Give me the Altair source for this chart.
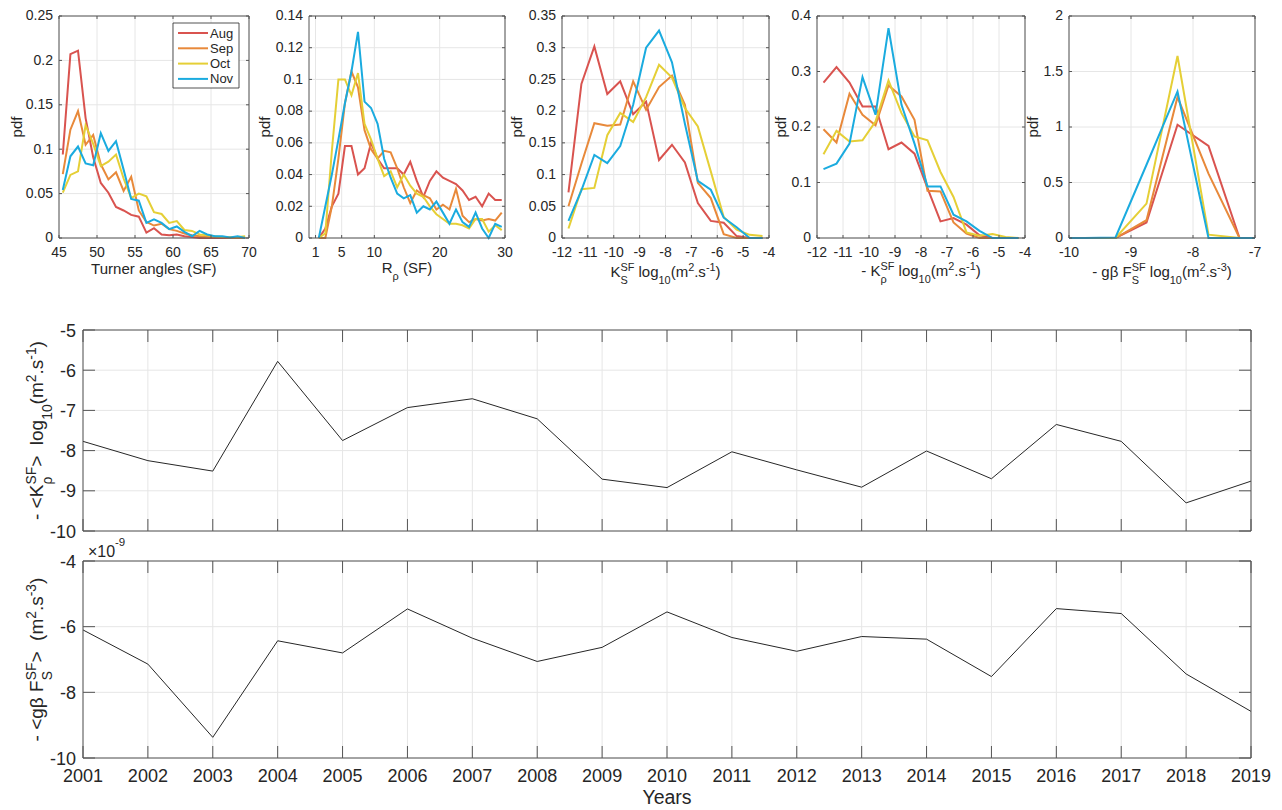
import altair as alt
import pandas as pd

FONT = "Liberation Sans, Arial, Helvetica, sans-serif"
TXT = "#262626"
BOX = "#555555"
GRID = "#e6e6e6"

months = ["Aug", "Sep", "Oct", "Nov"]
month_colors = ["#d9534f", "#e8893a", "#e5cf36", "#1aabdf"]

# ---- Turner angles ----
turner_x = [45.5, 46.5, 47.5, 48.5, 49.5, 50.5, 51.5, 52.5, 53.5, 54.5, 55.5, 56.5, 57.5,
            58.5, 59.5, 60.5, 61.5, 62.5, 63.5, 64.5, 65.5, 66.5, 67.5, 68.5, 69.5]
turner_aug = [0.094, 0.207, 0.211, 0.135, 0.091, 0.062, 0.051, 0.035, 0.031, 0.026, 0.024, 0.006, 0.011,
              0.004, 0.003, 0.004, 0.002, 0.001, 0, 0, 0, 0, 0, 0, 0]
turner_sep = [0.072, 0.122, 0.143, 0.105, 0.116, 0.083, 0.066, 0.074, 0.053, 0.069, 0.031, 0.018, 0.014,
              0.016, 0.010, 0.008, 0.005, 0.003, 0.002, 0.001, 0.001, 0.001, 0, 0, 0]
turner_oct = [0.051, 0.071, 0.075, 0.127, 0.106, 0.081, 0.086, 0.094, 0.067, 0.045, 0.050, 0.047, 0.029,
              0.027, 0.017, 0.019, 0.009, 0.008, 0.004, 0.003, 0.002, 0.001, 0.001, 0.001, 0.002]
turner_nov = [0.054, 0.092, 0.103, 0.084, 0.082, 0.118, 0.098, 0.109, 0.077, 0.044, 0.042, 0.017, 0.021,
              0.017, 0.010, 0.013, 0.007, 0.002, 0.008, 0.004, 0.002, 0.002, 0.0005, 0.002, 0.0]

# ---- R_rho ----
rrho_x = [1.5, 2.5, 3.5, 4.5, 5.5, 6.5, 7.5, 8.5, 9.5, 10.5, 11.5, 12.5, 13.5, 14.5, 15.5,
          16.5, 17.5, 18.5, 19.5, 20.5, 21.5, 22.5, 23.5, 24.5, 25.5, 26.5, 27.5, 28.5, 29.5]
rrho_aug = [0, 0.006, 0.02, 0.028, 0.058, 0.058, 0.04, 0.044, 0.06, 0.05, 0.044, 0.044, 0.044, 0.04, 0.048,
            0.036, 0.026, 0.036, 0.042, 0.038, 0.036, 0.034, 0.03, 0.024, 0.026, 0.02, 0.028, 0.024, 0.024]
rrho_sep = [0, 0, 0.02, 0.05, 0.085, 0.105, 0.095, 0.068, 0.056, 0.05, 0.055, 0.054, 0.044, 0.032, 0.022,
            0.03, 0.027, 0.025, 0.018, 0.021, 0.018, 0.031, 0.014, 0.01, 0.012, 0.011, 0.012, 0.011, 0.016]
rrho_oct = [0, 0.003, 0.055, 0.1, 0.1, 0.09, 0.104, 0.072, 0.062, 0.05, 0.039, 0.042, 0.032, 0.04, 0.033,
            0.028, 0.026, 0.02, 0.015, 0.012, 0.009, 0.009, 0.008, 0.006, 0.012, 0.012, 0.004, 0.008, 0.005]
rrho_nov = [0, 0.02, 0.04, 0.062, 0.085, 0.105, 0.13, 0.086, 0.082, 0.072, 0.05, 0.038, 0.028, 0.025, 0.027,
            0.016, 0.02, 0.018, 0.023, 0.016, 0.009, 0.018, 0.01, 0.007, 0.016, 0.006, 0.0, 0.009, 0.007]

# ---- K_S and K_rho ----
k_x = [-11.75, -11.25, -10.75, -10.25, -9.75, -9.25, -8.75, -8.25,
       -7.75, -7.25, -6.75, -6.25, -5.75, -5.25, -4.75, -4.25]
ks_aug = [0.072, 0.243, 0.302, 0.227, 0.247, 0.195, 0.215, 0.123, 0.147, 0.119, 0.055, 0.027, 0.024, 0.003, 0, 0]
ks_sep = [0.05, 0.117, 0.181, 0.177, 0.179, 0.247, 0.202, 0.238, 0.256, 0.21, 0.087, 0.063, 0.006, 0, 0, 0]
ks_oct = [0.015, 0.077, 0.079, 0.162, 0.197, 0.183, 0.222, 0.273, 0.253, 0.205, 0.176, 0.105, 0.033, 0.013, 0.005, 0.003]
ks_nov = [0.027, 0.075, 0.131, 0.118, 0.145, 0.21, 0.30, 0.327, 0.277, 0.18, 0.09, 0.076, 0.032, 0.017, 0, 0]

kr_aug = [0.28, 0.308, 0.28, 0.237, 0.237, 0.16, 0.172, 0.152, 0.09, 0.03, 0.036, 0.024, 0.005, 0, 0, 0]
kr_sep = [0.196, 0.172, 0.26, 0.222, 0.203, 0.275, 0.255, 0.213, 0.085, 0.084, 0.028, 0.008, 0, 0, 0, 0]
kr_oct = [0.151, 0.193, 0.174, 0.176, 0.21, 0.284, 0.225, 0.183, 0.176, 0.119, 0.074, 0.01, 0.004, 0.007, 0.002, 0]
kr_nov = [0.124, 0.134, 0.17, 0.29, 0.222, 0.378, 0.24, 0.17, 0.093, 0.093, 0.042, 0.03, 0.013, 0, 0, 0]

# ---- g beta F_S ----
gbf_x = [-10, -9.75, -9.25, -8.75, -8.25, -7.75, -7.25, -7]
gbf_aug = [0, 0, 0, 0.14, 1.02, 0.83, 0, 0]
gbf_sep = [0, 0, 0, 0.16, 1.27, 0.58, 0, 0]
gbf_oct = [0, 0, 0, 0.31, 1.64, 0.03, 0, 0]
gbf_nov = [0, 0, 0.005, 0.66, 1.32, 0, 0, 0]

# ---- yearly series ----
years = [2001, 2002, 2003, 2004, 2005, 2006, 2007, 2008, 2009, 2010,
         2011, 2012, 2013, 2014, 2015, 2016, 2017, 2018, 2019]
krho_year = [-7.77, -8.25, -8.51, -5.78, -7.75, -6.93, -6.71, -7.21, -8.71, -8.92,
             -8.03, -8.48, -8.91, -8.01, -8.70, -7.35, -7.77, -9.30, -8.76]
gbf_year = [-6.10, -7.14, -9.37, -6.43, -6.80, -5.46, -6.35, -7.06, -6.63, -5.55,
            -6.33, -6.75, -6.30, -6.38, -7.52, -5.45, -5.60, -7.44, -8.58]   # x 1e-9

# tick values
turner_ticks = [45, 50, 55, 60, 65, 70]
rrho_ticks = [1, 5, 10, 20, 30]
k_ticks = [-12, -11, -10, -9, -8, -7, -6, -5, -4]
gbf_ticks = [-10, -9, -8, -7]
pdf1_ticks = [0, 0.05, 0.1, 0.15, 0.2, 0.25]
pdf2_ticks = [0, 0.02, 0.04, 0.06, 0.08, 0.1, 0.12, 0.14]
pdf3_ticks = [0, 0.05, 0.1, 0.15, 0.2, 0.25, 0.3, 0.35]
pdf4_ticks = [0, 0.1, 0.2, 0.3, 0.4]
pdf5_ticks = [0, 0.5, 1, 1.5, 2]
krho_ticks = [-10, -9, -8, -7, -6, -5]
gbfy_ticks = [-10, -8, -6, -4]

# ---------------------------------------------------------------- helpers
CW = {" ": 278, "(": 333, ")": 333, ".": 278, "-": 333, "<": 584, ">": 584, "\u00d7": 584,
      "\u03b2": 575, "\u03c1": 577, "K": 667, "S": 667, "F": 611, "R": 722, "T": 611, "Y": 667,
      "a": 556, "e": 556, "g": 556, "l": 222, "n": 556, "o": 556, "r": 333, "s": 500, "u": 556,
      "m": 833, "d": 556, "p": 556, "f": 278, "t": 278}


def tw(s, size):
    return sum(CW.get(c, 556) for c in s) * size / 1000.0


def fmt(v):
    if float(v).is_integer():
        return str(int(v))
    return f"{v:.2f}".rstrip("0").rstrip(".")


def X(f, xs):
    return alt.X(f, type="quantitative", scale=xs, axis=None)


def Y(f, ys):
    return alt.Y(f, type="quantitative", scale=ys, axis=None)


ONE = pd.DataFrame({"k": [0]})


def frame_layers(xs, ys, xdom, ydom, xticks, yticks, L, lab, xlab_dy, ylab_dx, ylab_dy, xlabels=True):
    x0, x1 = xdom
    y0, y1 = ydom
    xt = pd.DataFrame({"t": xticks, "lab": [fmt(v) for v in xticks]})
    yt = pd.DataFrame({"t": yticks, "lab": [fmt(v) for v in yticks]})
    calc = dict(xa=f"{x0}", xb=f"{x1}", ya=f"{y0}", yb=f"{y1}")
    grid = [
        alt.Chart(xt).transform_calculate(**calc).mark_rule(color=GRID, strokeWidth=1).encode(
            x=X("t", xs), y=Y("ya", ys), y2="yb"),
        alt.Chart(yt).transform_calculate(**calc).mark_rule(color=GRID, strokeWidth=1).encode(
            y=Y("t", ys), x=X("xa", xs), x2="xb"),
    ]
    r = dict(color=BOX, strokeWidth=1)
    deco = [
        alt.Chart(ONE).transform_calculate(**calc).mark_rect(
            fillOpacity=0, stroke=BOX, strokeWidth=1).encode(
            x=X("xa", xs), x2="xb", y=Y("ya", ys), y2="yb"),
        alt.Chart(xt).transform_calculate(**calc).mark_rule(y2Offset=-L, **r).encode(
            x=X("t", xs), y=Y("ya", ys), y2="ya"),
        alt.Chart(xt).transform_calculate(**calc).mark_rule(y2Offset=L, **r).encode(
            x=X("t", xs), y=Y("yb", ys), y2="yb"),
        alt.Chart(yt).transform_calculate(**calc).mark_rule(x2Offset=L, **r).encode(
            y=Y("t", ys), x=X("xa", xs), x2="xa"),
        alt.Chart(yt).transform_calculate(**calc).mark_rule(x2Offset=-L, **r).encode(
            y=Y("t", ys), x=X("xb", xs), x2="xb"),
        alt.Chart(yt).transform_calculate(**calc).mark_text(
            align="right", baseline="alphabetic", fontSize=lab, font=FONT, color=TXT,
            xOffset=ylab_dx, yOffset=ylab_dy).encode(
            x=X("xa", xs), y=Y("t", ys), text="lab:N"),
    ]
    if xlabels:
        deco.append(
            alt.Chart(xt).transform_calculate(**calc).mark_text(
                align="center", baseline="alphabetic", fontSize=lab, font=FONT, color=TXT,
                yOffset=xlab_dy).encode(
                x=X("t", xs), y=Y("ya", ys), text="lab:N"))
    return grid, deco


def rich_layers(groups, size, xs, ys, ax, ay, base_dx, base_dy, rotated=False):
    """Text with sub/superscripts built from several text marks."""
    small = round(size * 0.73, 1)
    spec = {"n": (size, 0.0), "sub": (small, round(size * 0.45, 1)), "sup": (small, -round(size * 0.38, 1))}
    adv = [max(tw(t, spec[k][0]) for t, k in g) for g in groups]
    pos = -sum(adv) / 2.0
    out = []
    for g, a in zip(groups, adv):
        for t, k in g:
            s, shift = spec[k]
            lead = len(t) - len(t.lstrip(" "))
            off = pos + tw(" " * lead, s)
            if rotated:
                xo, yo, ang = base_dx + shift, base_dy - off, 270
            else:
                xo, yo, ang = base_dx + off, base_dy + shift, 0
            out.append(
                alt.Chart(pd.DataFrame({"t": [t.strip()]})).transform_calculate(
                    ax=f"{ax}", ay=f"{ay}").mark_text(
                    align="left", baseline="alphabetic", fontSize=s, font=FONT, color=TXT,
                    angle=ang, xOffset=round(xo, 1), yOffset=round(yo, 1)).encode(
                    x=X("ax", xs), y=Y("ay", ys), text="t:N"))
        pos += a
    return out


def long_df(xs, series):
    rows = []
    for m, vals in zip(months, series):
        for x, v in zip(xs, vals):
            rows.append({"x": x, "pdf": v, "month": m})
    return pd.DataFrame(rows)


color_enc = alt.Color("month:N", scale=alt.Scale(domain=months, range=month_colors), legend=None)
TOP_YR = [230, 8]


def top_panel(df, xdom, xr, xticks, ydom, yticks, xtitle, title_dy, pdf_dx, legend=False):
    xs = alt.Scale(domain=xdom, range=xr, nice=False, zero=False)
    ys = alt.Scale(domain=ydom, range=TOP_YR, nice=False, zero=False)
    grid, deco = frame_layers(xs, ys, xdom, ydom, xticks, yticks, 3, 14, 19, -6, 4.3)
    line = alt.Chart(df).mark_line(strokeWidth=2).encode(
        x=X("x", xs), y=Y("pdf", ys), color=color_enc)
    layers = grid + [line] + deco
    xmid = (xdom[0] + xdom[1]) / 2.0
    ymid = (ydom[0] + ydom[1]) / 2.0
    layers += rich_layers(xtitle, 15, xs, ys, xmid, ydom[0], 0, title_dy)
    layers.append(alt.Chart(pd.DataFrame({"t": ["pdf"]})).transform_calculate(
        ax=f"{xdom[0]}", ay=f"{ymid}").mark_text(
        align="center", baseline="alphabetic", angle=270, fontSize=15, font=FONT, color=TXT,
        xOffset=pdf_dx).encode(x=X("ax", xs), y=Y("ay", ys), text="t:N"))
    if legend:
        calc = dict(ax=f"{xdom[1]}", ay=f"{ydom[1]}")
        layers.append(alt.Chart(ONE).transform_calculate(**calc).mark_rect(
            fill="white", stroke=TXT, strokeWidth=0.8,
            xOffset=-76, x2Offset=-10, yOffset=7, y2Offset=72).encode(
            x=X("ax", xs), x2="ax", y=Y("ay", ys), y2="ay"))
        for i, (m, c) in enumerate(zip(months, month_colors)):
            row = 17 + 15.3 * i
            ld = pd.DataFrame({"month": [m]})
            layers.append(alt.Chart(ld).transform_calculate(**calc).mark_rule(
                color=c, strokeWidth=2, xOffset=-71, x2Offset=-41, yOffset=row).encode(
                x=X("ax", xs), x2="ax", y=Y("ay", ys)))
            layers.append(alt.Chart(ld).transform_calculate(**calc).mark_text(
                align="left", baseline="alphabetic", fontSize=13, font=FONT, color=TXT,
                xOffset=-39, yOffset=row + 4.5).encode(
                x=X("ax", xs), y=Y("ay", ys), text="month:N"))
    return alt.layer(*layers)


def sub_sup(sub):
    return [(sub, "sub"), ("SF", "sup")]


def units(exp, lead=" log"):
    return [[(lead, "n")], [("10", "sub")], [("(m", "n")], [("2", "sup")], [(".s", "n")],
            [(exp, "sup")], [(")", "n")]]


p1 = top_panel(long_df(turner_x, [turner_aug, turner_sep, turner_oct, turner_nov]),
               [45, 70], [51, 241], turner_ticks, [0, 0.25], pdf1_ticks,
               [[("Turner angles (SF)", "n")]], 36, -37, legend=True)
p2 = top_panel(long_df(rrho_x, [rrho_aug, rrho_sep, rrho_oct, rrho_nov]),
               [0, 30], [301, 497], rrho_ticks, [0, 0.14], pdf2_ticks,
               [[("R", "n")], [("\u03c1", "sub")], [(" (SF)", "n")]], 35, -39)
p3 = top_panel(long_df(k_x, [ks_aug, ks_sep, ks_oct, ks_nov]),
               [-12, -4], [554, 761], k_ticks, [0, 0.35], pdf3_ticks,
               [[("K", "n")], sub_sup("S")] + units("-1"), 39, -40)
p4 = top_panel(long_df(k_x, [kr_aug, kr_sep, kr_oct, kr_nov]),
               [-12, -4], [809, 1017], k_ticks, [0, 0.4], pdf4_ticks,
               [[("- K", "n")], sub_sup("\u03c1")] + units("-1"), 38, -31)
p5 = top_panel(long_df(gbf_x, [gbf_aug, gbf_sep, gbf_oct, gbf_nov]),
               [-10, -7], [1061, 1247], gbf_ticks, [0, 2], pdf5_ticks,
               [[("- g\u03b2 F", "n")], sub_sup("S")] + units("-3"), 39, -31)

B_XR = [75, 1243]


def bottom_panel(vals, ydom, yr, yticks, ytitle, show_x, extra_fn=None):
    xdom = [2001, 2019]
    xs = alt.Scale(domain=xdom, range=B_XR, nice=False, zero=False)
    ys = alt.Scale(domain=ydom, range=yr, nice=False, zero=False)
    grid, deco = frame_layers(xs, ys, xdom, ydom, years, yticks, 12, 18, 24, -7, 6.5, xlabels=show_x)
    df = pd.DataFrame({"year": years, "v": vals})
    line = alt.Chart(df).mark_line(color="#262626", strokeWidth=1).encode(
        x=X("year", xs), y=Y("v", ys))
    layers = grid + [line] + deco
    ymid = (ydom[0] + ydom[1]) / 2.0
    layers += rich_layers(ytitle, 19, xs, ys, xdom[0], ymid, -40, 0, rotated=True)
    if extra_fn:
        layers += extra_fn(xs, ys)
    return alt.layer(*layers)


def b2_extra(xs, ys):
    out = []
    for t, s, xo, yo in [("\u00d710", 16, 5, -4), ("-9", 11.5, 32, -15)]:
        out.append(alt.Chart(pd.DataFrame({"t": [t]})).transform_calculate(
            ax="2001", ay="-4").mark_text(
            align="left", baseline="alphabetic", fontSize=s, font=FONT, color=TXT,
            xOffset=xo, yOffset=yo).encode(x=X("ax", xs), y=Y("ay", ys), text="t:N"))
    out.append(alt.Chart(pd.DataFrame({"t": ["Years"]})).transform_calculate(
        ax="2010", ay="-10").mark_text(
        align="center", baseline="alphabetic", fontSize=19.5, font=FONT, color=TXT,
        yOffset=46).encode(x=X("ax", xs), y=Y("ay", ys), text="t:N"))
    return out


b1 = bottom_panel(krho_year, [-10, -5], [523, 322], krho_ticks,
                  [[("- <K", "n")], sub_sup("\u03c1"), [(">", "n")]] + units("-1", lead="  log"), False)
b2 = bottom_panel(gbf_year, [-10, -4], [750, 553], gbfy_ticks,
                  [[("- <g\u03b2 F", "n")], sub_sup("S"), [(">", "n")], [("  (m", "n")], [("2", "sup")],
                   [(".s", "n")], [("-3", "sup")], [(")", "n")]], True, extra_fn=b2_extra)

chart = alt.layer(p1, p2, p3, p4, p5, b1, b2).resolve_scale(
    x="independent", y="independent"
).properties(
    width=1266, height=802, padding=0, background="white",
    autosize=alt.AutoSizeParams(type="none"),
).configure_view(stroke="transparent")

chart.save("out.html", embed_options={"renderer": "svg", "actions": False})
